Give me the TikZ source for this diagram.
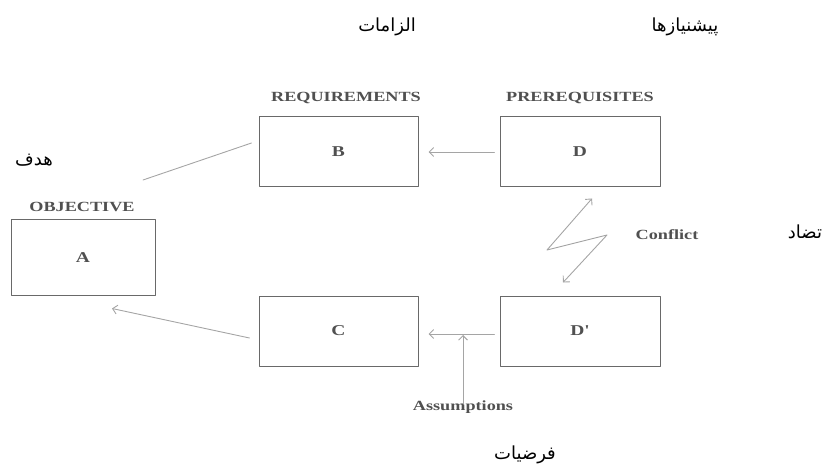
\documentclass[tikz,border=0pt]{standalone}
\usepackage{fontspec}
\usetikzlibrary{arrows.meta}
\setmainfont{Liberation Serif}
\newfontfamily\labfont[FakeStretch=1.3]{Liberation Serif}
\newfontfamily\arabicfont[Script=Arabic]{DejaVu Sans}
\TeXXeTstate=1
\definecolor{boxgray}{RGB}{105,105,105}
\definecolor{linegray}{RGB}{165,165,165}
\definecolor{textgray}{RGB}{80,80,80}

\begin{document}
\begin{tikzpicture}[line cap=round,line join=round,>={Straight Barb[length=4.5pt,width=9pt]},x=1.0pt,y=-1.0pt,
  box/.style={draw=boxgray,line width=1pt,minimum width=159pt,minimum height=70pt,inner sep=0pt,font=\labfont\bfseries\fontsize{15}{17}\selectfont,text=textgray},
  boxcaption/.style={font=\labfont\bfseries\fontsize{14}{16}\selectfont,text=textgray},
  arab/.style={font=\arabicfont\fontsize{18}{20}\selectfont},
  link/.style={draw=linegray,line width=0.9pt}]
        \useasboundingbox (0,0) rectangle (831,468);
        % boxes
        \node[box,minimum width=144pt,minimum height=75pt] (A) at (83,257.5) {A};
        \node[box] (B) at (338.5,152) {B};
        \node[box] (C) at (338.5,331) {C};
        \node[box,minimum width=160pt] (D) at (580,152) {D};
        \node[box,minimum width=160pt] (Dp) at (580,331) {D'};
        % captions
        \node[boxcaption] (objective) at (82,207) {OBJECTIVE};
        \node[boxcaption] (requirements) at (346,98) {REQUIREMENTS};
        \node[boxcaption] (prerequisites) at (580,98) {PREREQUISITES};
        \node[boxcaption] (conflict) at (667,235) {Conflict};
        \node[boxcaption] (assumptions) at (463,407) {Assumptions};
        % persian words
        \node[arab] (hadaf) at (34,160) {\beginR هدف\endR};
        \node[arab] (elzamat) at (387,27) {\beginR الزامات\endR};
        \node[arab] (pishniaz) at (685,27) {\beginR پیشنیازها\endR};
        \node[arab] (tazad) at (805,232) {\beginR تضاد\endR};
        \node[arab] (farziat) at (525,455) {\beginR فرضیات\endR};
        % free ends
        \coordinate (objtip) at (143,180);
        \coordinate (atip) at ([shift={(29,13)}]A.south);
        \coordinate (asmtip) at (463,335);
        % connectors
        \draw[link] ([shift={(-7,-9)}]B.west) -- (objtip);
        \draw[link,->] ([shift={(-9,7)}]C.west) -- (atip);
        \draw[link,->,shorten <=5pt,shorten >=10pt] (D.west) -- (B.east);
        \draw[link,->,shorten <=5pt,shorten >=10pt] ([yshift=-3]Dp.west) -- ([yshift=-3]C.east);
        \draw[link,->] ([yshift=-7]assumptions.north) -- (asmtip);
        \draw[link,<->] ([shift={(12,11)}]D.south) -- (547,250) -- (607,235) -- ([shift={(-17,-13)}]Dp.north);
      \end{tikzpicture}
\end{document}
